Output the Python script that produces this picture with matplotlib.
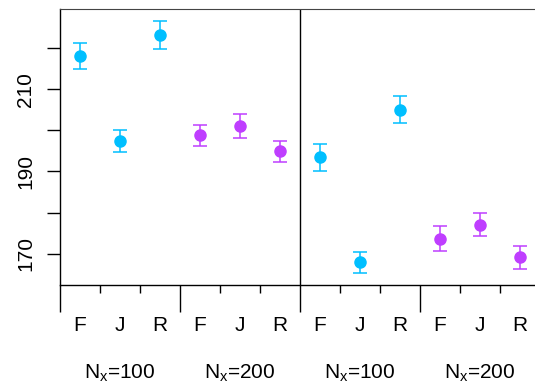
import numpy as np
import matplotlib
matplotlib.use("Agg")
import matplotlib.pyplot as plt

plt.rcParams['font.family'] = ['Liberation Sans', 'DejaVu Sans']

methods = ["F", "J", "R"]
groups = ["N$_\\mathregular{x}$=100", "N$_\\mathregular{x}$=200",
          "N$_\\mathregular{x}$=100", "N$_\\mathregular{x}$=200"]

# left panel
p1_n100 = [218.0, 197.4, 223.2]
p1_n100_err = [3.2, 2.7, 3.35]
p1_n200 = [198.8, 201.1, 194.9]
p1_n200_err = [2.6, 2.85, 2.55]
# right panel
p2_n100 = [193.4, 167.9, 205.0]
p2_n100_err = [3.2, 2.6, 3.25]
p2_n200 = [173.7, 177.1, 169.1]
p2_n200_err = [3.0, 2.9, 2.7]

blue = "#00BFFF"
purple = "#BF3EFF"

W, H = 535, 389
fig = plt.figure(figsize=(W / 100, H / 100), dpi=100)
ax = fig.add_axes([60 / W, (H - 285) / H, 480 / W, 276 / H])

series = [(p1_n100, p1_n100_err, blue), (p1_n200, p1_n200_err, purple),
          (p2_n100, p2_n100_err, blue), (p2_n200, p2_n200_err, purple)]
for i, (vals, errs, col) in enumerate(series):
    xs = np.arange(3) + 1 + 3 * i
    ax.errorbar(xs, vals, yerr=errs, fmt='o', color=col, ms=8, elinewidth=1.1,
                capsize=4.7, capthick=1.1)

ax.set_xlim(0.5, 12.5)
ax.set_ylim(162.4, 229.5)
ax.axvline(6.5, color='black', lw=1.0)

for s in ['left', 'bottom']:
    ax.spines[s].set_linewidth(1.0)
ax.spines['top'].set_color('#444444')
ax.spines['right'].set_visible(False)

ax.set_yticks([170, 180, 190, 200, 210, 220])
ax.set_yticklabels(["170", "", "190", "", "210", ""], rotation=90, va='center')
ax.tick_params(axis='y', length=9.2, width=1.0, pad=8.5, labelsize=15)

# group boundaries get long ticks, method boundaries short ones
ax.set_xticks([0.5, 3.5, 6.5, 9.5, 12.5])
ax.set_xticks([1.5, 2.5, 4.5, 5.5, 7.5, 8.5, 10.5, 11.5], minor=True)
ax.tick_params(axis='x', which='major', length=19.5, width=1.0, labelbottom=False)
ax.tick_params(axis='x', which='minor', length=5.8, width=1.0, labelbottom=False)

trans = ax.get_xaxis_transform()
for i in range(12):
    ax.text(i + 1, -0.1667, methods[i % 3], transform=trans, ha='center',
            va='baseline', fontsize=15)
for g, lab in enumerate(groups):
    ax.text(2 + 3 * g, -0.338, lab, transform=trans, ha='center',
            va='baseline', fontsize=15)

fig.savefig("out.png", dpi=100)
